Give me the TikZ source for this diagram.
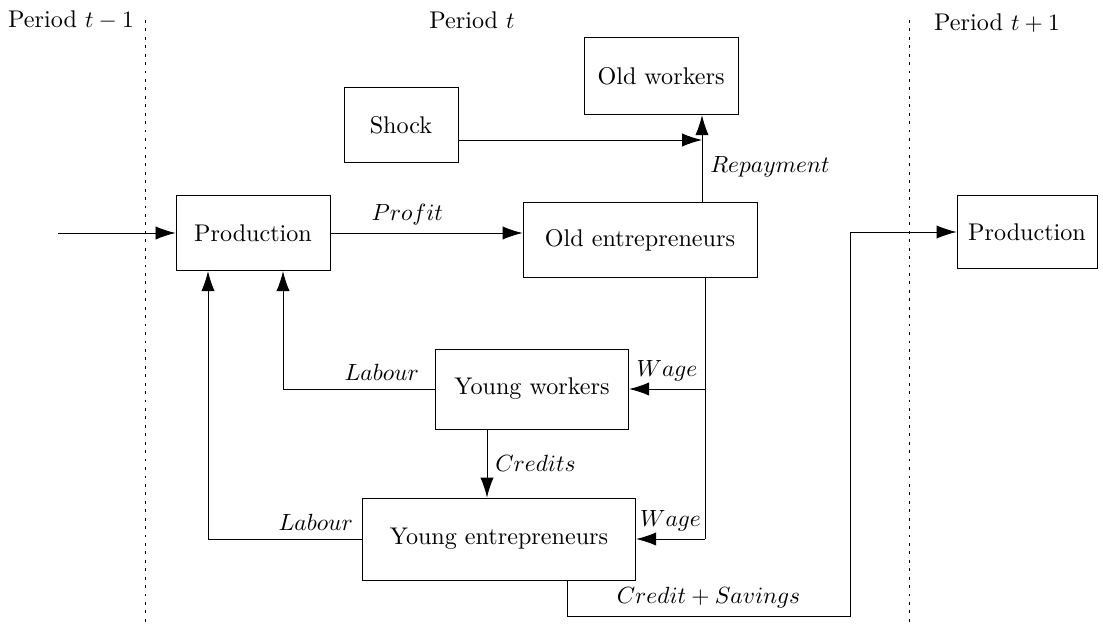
\documentclass[tikz,border=0pt]{standalone}
\usepackage{amsmath}
\usetikzlibrary{positioning, calc, arrows.meta}
\tikzset{box/.style = {draw, rectangle, inner sep=1mm},
         arr/.style = {-{Latex[length=3mm,width=2mm]}},
         sep/.style = {dash pattern=on 1.2pt off 2.4pt}}

\begin{document}
\begin{tikzpicture}[x=0.015cm, y=-0.015cm, every node/.style = {font=\fontsize{10.3}{12.4}\selectfont}]
            \useasboundingbox (0,0) rectangle (1103,626);

            \node (per0) at (71, 20) {Period $t-1$};
            \node (per1) at (472, 20) {Period $t$};
            \node (per2) at (997, 23) {Period $t+1$};

            \draw[sep] (145,20) -- (145,626);
            \draw[sep] (909,20) -- (909,626);

            \node[box, minimum width=2.31cm, minimum height=1.16cm] (oldw) at (661, 76) {Old workers};
            \node[box, minimum width=1.71cm, minimum height=1.13cm] (shock) at (401,125) {Shock};
            \node[box, minimum width=2.31cm, minimum height=1.13cm] (prod) at (253,233) {Production};
            \node[box, minimum width=3.51cm, minimum height=1.13cm] (oldent) at (640,240) {Old entrepreneurs};
            \node[box, minimum width=2.9cm, minimum height=1.2cm] (youngw) at (532,389) {Young workers};
            \node[box, minimum width=4.1cm, minimum height=1.23cm] (youngent) at (499,539) {Young entrepreneurs};
            \node[box, minimum width=2.1cm, minimum height=1.1cm] (prodnext) at (1027,232) {Production};

            \coordinate (in) at (58,233);
            \coordinate (rep) at (702,140);
            \coordinate (wage) at (705,0);
            \coordinate (cred) at (487,0);
            \coordinate (lab1) at (283,0);
            \coordinate (lab2) at (208,0);
            \coordinate (sav) at (567,616);
            \coordinate (turn) at (850,616);

            \draw[arr] (in) -- (prod.west);
            \draw[arr] (prod.east) -- node[above, pos=0.4] {$Profit$} (prod.east -| oldent.west);
            \draw[arr] (shock.east |- rep) -- (rep);
            \draw[arr] (rep |- oldent.north) -- node[right, pos=0.4] {$Repayment$} (rep |- oldw.south);

            \draw (wage |- oldent.south) -- (wage |- youngent.east);
            \draw[arr] (wage |- youngw.east) -- node[above] {$Wage$} (youngw.east);
            \draw[arr] (wage |- youngent.east) -- node[above] {$Wage$} (youngent.east);

            \draw[arr] (cred |- youngw.south) -- node[right] {$Credits$} (cred |- youngent.north);
            \draw[arr] (youngw.west) -- node[above, pos=0.35] {$Labour$} (youngw.west -| lab1) -- (lab1 |- prod.south);
            \draw[arr] (youngent.west) -- node[above, pos=0.3] {$Labour$} (youngent.west -| lab2) -- (lab2 |- prod.south);

            \draw[arr] (sav |- youngent.south) -- (sav) -- node[above] {$Credit + Savings$} (turn) -- (turn |- prodnext.west) -- (prodnext.west);
\end{tikzpicture}
\end{document}
